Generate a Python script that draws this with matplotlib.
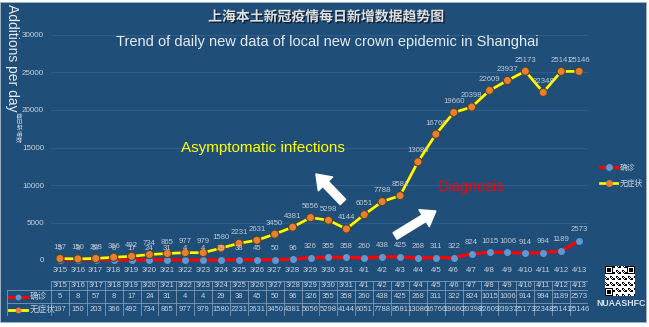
import matplotlib.pyplot as plt
import matplotlib.patheffects as pe
from matplotlib.lines import Line2D
from matplotlib.patches import Rectangle
import numpy as np

plt.rcParams['font.family'] = ['Liberation Sans', 'Noto Sans CJK SC', 'DejaVu Sans']

dates = ['3/15', '3/16', '3/17', '3/18', '3/19', '3/20', '3/21', '3/22', '3/23', '3/24',
         '3/25', '3/26', '3/27', '3/28', '3/29', '3/30', '3/31', '4/1', '4/2', '4/3',
         '4/4', '4/5', '4/6', '4/7', '4/8', '4/9', '4/10', '4/11', '4/12', '4/13']
confirmed = [5, 8, 57, 8, 17, 24, 31, 4, 4, 29, 38, 45, 50, 96, 326, 355, 358, 260, 438, 425,
             268, 311, 322, 824, 1015, 1006, 914, 994, 1189, 2573]
asymptomatic = [197, 150, 203, 366, 492, 734, 865, 977, 979, 1580, 2231, 2631, 3450, 4381, 5656,
                5298, 4144, 6051, 7788, 8581, 13086, 16766, 19660, 20398, 22609, 23937, 25173,
                22348, 25141, 25146]
yticks = [0, 5000, 10000, 15000, 20000, 25000, 30000]

W, H = 649, 327
bg = '#1f4e79'
light = '#c9d3de'
gridc = '#2f5d8a'


def box(x0, y0, x1, y1):
    # pixel box (top-left origin) -> figure fraction rect
    return [x0 / W, 1 - y1 / H, (x1 - x0) / W, (y1 - y0) / H]


fig = plt.figure(figsize=(W / 100, H / 100), dpi=100, facecolor='white')
fig.patches.append(Rectangle((0, 1 - 322 / H), 646 / W, 320 / H, transform=fig.transFigure,
                             facecolor=bg, edgecolor='#9fb3c8', linewidth=0.6, zorder=-1))

ax = fig.add_axes(box(51, 35, 588, 260))
ax.set_facecolor('none')
x = np.arange(len(dates))
ax.set_xlim(-0.5, len(dates) - 0.5)
ax.set_ylim(0, 30000)
ax.set_yticks(yticks)
ax.set_yticklabels([str(v) for v in yticks], fontsize=5.8, color=light)
ax.set_xticks(x)
ax.set_xticklabels(dates, fontsize=5.6, color=light)
ax.tick_params(length=0, pad=5)
ax.grid(axis='y', color=gridc, linewidth=0.9)
ax.set_axisbelow(True)
for s in ax.spines.values():
    s.set_visible(False)

ax.plot(x, confirmed, color='#ff0000', linewidth=2.3, marker='o', markersize=4,
        markerfacecolor='#5b9bd5', markeredgecolor='#5b9bd5', clip_on=False, zorder=3)
ax.plot(x, asymptomatic, color='#ffff00', linewidth=1.9, marker='o', markersize=4,
        markerfacecolor='#ed7d31', markeredgecolor='#ed7d31', clip_on=False, zorder=4,
        path_effects=[pe.Stroke(linewidth=2.8, foreground='#4a4a30'), pe.Normal()])

for xi, v in zip(x, confirmed):
    ax.annotate(str(v), (xi, v), xytext=(0, 8), textcoords='offset points', ha='center',
                va='center', fontsize=5.6, color='#c0cad6', zorder=5)
for xi, v in zip(x, asymptomatic):
    ax.annotate(str(v), (xi, v), xytext=(0, 8), textcoords='offset points', ha='center',
                va='center', fontsize=5.6, color='#c0cad6', zorder=5)

ax.text(11.34, 14933, 'Asymptomatic infections', color='#ffff00', fontsize=11,
        ha='center', va='center')
ax.text(22.96, 9733, 'Diagnosis', color='#ff0000', fontsize=11, ha='center', va='center')
arrow = dict(arrowstyle='simple,head_length=0.9,head_width=1.3,tail_width=0.5',
             color='white', mutation_scale=11, shrinkA=0, shrinkB=0)
ax.annotate('', xy=(14.3, 11467), xytext=(15.81, 7733), arrowprops=arrow)
ax.annotate('', xy=(21.0, 6533), xytext=(18.72, 3200), arrowprops=arrow)

# legend
handles = [Line2D([], [], color='#ff0000', linewidth=2.3, marker='o', markersize=4,
                  markerfacecolor='#5b9bd5', markeredgecolor='#5b9bd5'),
           Line2D([], [], color='#ffff00', linewidth=1.9, marker='o', markersize=4,
                  markerfacecolor='#ed7d31', markeredgecolor='#ed7d31')]
fig.legend(handles, ['确诊', '无症状'], loc='center left',
           bbox_to_anchor=(600 / W, 1 - 176 / H), frameon=False, fontsize=5.6,
           labelcolor=light, handlelength=2.2, handletextpad=0.3, labelspacing=1.0,
           borderpad=0, borderaxespad=0)

# titles
fig.text(326 / W, 1 - 17 / H, '上海本土新冠疫情每日新增数据趋势图', ha='center', va='center',
         fontsize=10, fontweight='bold', color='#e0e0e0',
         path_effects=[pe.withSimplePatchShadow(offset=(1, -1), shadow_rgbFace='black', alpha=0.6)])
fig.text(327 / W, 1 - 42 / H, 'Trend of daily new data of local new crown epidemic in Shanghai',
         ha='center', va='center', fontsize=10.5, color='#e6ecf2')
fig.text(12 / W, 1 - 58 / H, 'Additions per day', rotation=270, ha='center', va='center',
         fontsize=10, color='#e6ecf2')
fig.text(18 / W, 1 - 128 / H, '每日新增数', rotation=270, ha='center', va='center',
         fontsize=4.5, color=light)

# data table
tb = fig.add_axes(box(7, 281, 588, 316))
lab_w = 44 / 17.9
tb.set_xlim(-0.5 - lab_w, len(dates) - 0.5)
rows = [0, 0.7, 1.7, 2.7]
tb.set_ylim(rows[-1], rows[0])
tb.axis('off')
edge = '#7f9bb8'
for r in rows:
    tb.plot([-0.5 - (lab_w if r > 0 else 0), len(dates) - 0.5], [r, r], color=edge, lw=0.6)
for i in range(len(dates) + 1):
    tb.plot([i - 0.5, i - 0.5], [rows[0], rows[-1]], color=edge, lw=0.6)
tb.plot([-0.5 - lab_w] * 2, [rows[1], rows[-1]], color=edge, lw=0.6)
for i, d in enumerate(dates):
    tb.text(i, (rows[0] + rows[1]) / 2, d, ha='center', va='center', fontsize=5.5, color=light)
    tb.text(i, (rows[1] + rows[2]) / 2, str(confirmed[i]), ha='center', va='center',
            fontsize=5.5, color=light)
    tb.text(i, (rows[2] + rows[3]) / 2, str(asymptomatic[i]), ha='center', va='center',
            fontsize=5.5, color=light)
lx0 = -0.5 - lab_w + 0.1
tb.plot([lx0, lx0 + 1.0], [(rows[1] + rows[2]) / 2] * 2, color='#ff0000', lw=2.2)
tb.plot([lx0 + 0.5], [(rows[1] + rows[2]) / 2], 'o', color='#5b9bd5', ms=3.2)
tb.plot([lx0, lx0 + 1.0], [(rows[2] + rows[3]) / 2] * 2, color='#ffff00', lw=2.0)
tb.plot([lx0 + 0.5], [(rows[2] + rows[3]) / 2], 'o', color='#ed7d31', ms=3.2)
tb.text(lx0 + 1.15, (rows[1] + rows[2]) / 2, '确诊', ha='left', va='center', fontsize=6.2, color=light)
tb.text(lx0 + 1.15, (rows[2] + rows[3]) / 2, '无症状', ha='left', va='center', fontsize=6.2, color=light)

# QR code placeholder and tag
qr = fig.add_axes(box(605, 266, 635, 296))
ii, jj = np.indices((25, 25))
pattern = ((ii * 7 + jj * 3 + ii * jj) % 5 < 2).astype(float)
for (a, b) in [(0, 0), (0, 18), (18, 0)]:
    pattern[a:a + 7, b:b + 7] = 1
    pattern[a + 1:a + 6, b + 1:b + 6] = 0
    pattern[a + 2:a + 5, b + 2:b + 5] = 1
qr.imshow(1 - pattern, cmap='gray', interpolation='nearest')
qr.axis('off')
fig.text(621 / W, 1 - 304 / H, 'NUAASHFC', ha='center', va='center', fontsize=6.3,
         fontweight='bold', color='#dde4ec')

fig.savefig('out.png', dpi=100, facecolor=fig.get_facecolor())
